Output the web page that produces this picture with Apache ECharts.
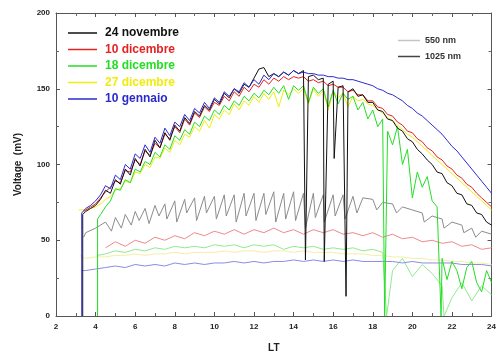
<!DOCTYPE html>
<html lang="it">
<head>
  <meta charset="UTF-8">
  <title>Voltage vs LT</title>
  <script src="https://cdn.jsdelivr.net/npm/echarts@6/dist/echarts.min.js"></script>
</head>
<body style="margin:0;">
  <div id="chart" style="width:499px;height:360px;"></div>
<script type="text/javascript">
  // LT grid for the 1025 nm traces (every 0.25 h) and the 550 nm traces (every 0.5 h)
  let ltHi = [3.5, 3.75, 4, 4.25, 4.5, 4.75, 5, 5.25, 5.5, 5.75, 6, 6.25, 6.5, 6.75, 7, 7.25,
    7.5, 7.75, 8, 8.25, 8.5, 8.75, 9, 9.25, 9.5, 9.75, 10, 10.25, 10.5, 10.75, 11, 11.25,
    11.5, 11.75, 12, 12.25, 12.5, 12.75, 13, 13.25, 13.5, 13.75, 14, 14.25, 14.5, 14.75, 15, 15.25,
    15.5, 15.75, 16, 16.25, 16.5, 16.75, 17, 17.25, 17.5, 17.75, 18, 18.25, 18.5, 18.75, 19, 19.25,
    19.5, 19.75, 20, 20.25, 20.5, 20.75, 21, 21.25, 21.5, 21.75, 22, 22.25, 22.5, 22.75, 23, 23.25,
    23.5, 23.75, 24];
  let ltLo = [3.5, 4, 4.5, 5, 5.5, 6, 6.5, 7, 7.5, 8, 8.5, 9, 9.5, 10, 10.5, 11, 11.5, 12, 12.5, 13,
    13.5, 14, 14.5, 15, 15.5, 16, 16.5, 17, 17.5, 18, 18.5, 19, 19.5, 20, 20.5, 21, 21.5, 22, 22.5, 23,
    23.5, 24];

  // 1025 nm (mV)
  let nov24Hi = [69, 71, 73, 77, 83, 81, 90, 87, 97, 93, 104, 99, 110, 105, 116, 111,
    121, 116, 126, 122, 131, 127, 135, 132, 139, 136, 143, 140, 147, 144, 150, 147,
    153, 151, 157, 163, 164, 158, 160, 158, 161, 159, 162, 160, 162, 158, 159, 156,
    157, 153, 155, 151, 152, 148, 150, 145, 146, 141, 141, 136, 135, 130, 129, 124,
    122, 117, 115, 110, 107, 103, 100, 95, 94, 88, 86, 81, 80, 74, 73, 68,
    67, 62, 60];
  let dic10Hi = [70, 72, 74, 78, 82, 85, 89, 88, 96, 95, 103, 100, 109, 106, 114, 111,
    120, 117, 125, 121, 130, 126, 134, 131, 138, 135, 141, 139, 145, 142, 148, 145,
    151, 148, 153, 151, 156, 153, 157, 155, 158, 156, 158, 157, 158, 155, 156, 154,
    155, 152, 153, 151, 151, 148, 149, 146, 146, 142, 142, 138, 137, 133, 132, 128,
    126, 122, 121, 117, 115, 111, 109, 105, 103, 99, 97, 93, 91, 87, 85, 81,
    78, 75, 72];
  let dic18Hi = [null, null, null, 67, 72, 76, 84, 83, 90, 88, 97, 95, 102, 100, 108, 105,
    113, 110, 119, 116, 123, 120, 128, 125, 132, 129, 136, 133, 139, 136, 142, 139,
    145, 142, 147, 144, 149, 146, 151, 147, 152, 143, 152, 149, 152, 141, 151, 147,
    150, 138, 149, 140, 147, 143, 145, 136, 141, 130, 136, 125, 130, 122, 113, 125,
    100, 110, 78, 95, 85, 92, 76, 72, 38, 24, 36, 30, 18, 32, 36, 22,
    16, 30, 22];
  let dic27Hi = [70, 71, 72, 74, 77, 79, 83, 84, 89, 88, 95, 94, 100, 98, 105, 104,
    111, 108, 116, 113, 120, 118, 125, 122, 129, 124, 133, 130, 136, 133, 140, 136,
    142, 139, 145, 141, 147, 143, 148, 138, 149, 146, 150, 147, 150, 140, 150, 145,
    149, 136, 148, 144, 147, 138, 145, 142, 143, 140, 139, 136, 134, 131, 129, 126,
    123, 120, 118, 115, 112, 109, 106, 103, 100, 97, 94, 91, 88, 85, 82, 79,
    76, 73, 70];
  let gen10Hi = [71, 73, 76, 80, 86, 84, 93, 90, 100, 97, 107, 104, 113, 108, 118, 114,
    124, 119, 128, 125, 133, 129, 137, 134, 141, 137, 144, 141, 148, 145, 150, 148,
    154, 151, 156, 153, 159, 156, 160, 158, 161, 159, 162, 160, 161, 160, 160, 159,
    159, 158, 158, 157, 157, 156, 156, 155, 154, 153, 152, 150, 149, 147, 146, 144,
    142, 139, 137, 134, 132, 129, 126, 123, 120, 116, 112, 109, 105, 101, 97, 93,
    89, 85, 81];

  // 550 nm (mV)
  let nov24Lo = [55, 58, 62, 65, 67, 69, 71, 73, 74, 76, 77, 78, 79, 79, 80, 80, 81, 81, 81, 82,
    81, 82, 81, 81, 80, 80, 80, 79, 78, 77, 75, 74, 72, 70, 68, 66, 64, 62, 60, 58,
    56, 54];
  let dic10Lo = [null, null, 45, 49, 46, 50, 48, 52, 50, 53, 51, 55, 53, 56, 54, 57, 54, 57, 55, 58,
    55, 57, 54, 57, 55, 57, 54, 55, 53, 55, 52, 54, 51, 52, 49, 50, 48, 49, 46, 47,
    44, 45];
  let dic18Lo = [null, null, 41, 43, 42, 44, 43, 45, 44, 46, 45, 46, 45, 47, 46, 47, 45, 47, 46, 47,
    44, 46, 45, 46, 44, 45, 44, 45, 43, 44, 42, 30, 38, 26, 34, 28, 20, 12, 22, 10,
    20, 14];
  let dic27Lo = [38, 39, 39, 40, 40, 41, 40, 41, 41, 42, 41, 42, 42, 42, 43, 42, 43, 43, 42, 43,
    43, 42, 43, 42, 42, 42, 41, 41, 41, 40, 40, 39, 39, 38, 38, 37, 37, 36, 36, 35,
    35, 34];
  let gen10Lo = [30, 31, 32, 33, 32, 34, 33, 34, 33, 35, 34, 35, 34, 35, 35, 36, 35, 36, 35, 36,
    36, 37, 36, 37, 36, 37, 36, 37, 36, 36, 36, 36, 35, 36, 35, 35, 35, 35, 34, 34,
    34, 33];

  // start of each record and the narrow drop-outs, as [LT, mV]
  let nov24HiExtra = [[3.35, 0], [3.35, 67], [14.6, 37], [15.55, 36], [16.05, 104], [16.65, 13]];
  let dic10HiExtra = [[3.4, 69]];
  let dic18HiExtra = [[4.1, 0], [4.1, 64], [18.6, 0], [21.45, 0]];
  let dic27HiExtra = [[3.15, 70]];
  let gen10HiExtra = [[3.3, 0], [3.3, 68]];
  let nov24LoExtra = [[3.4, 52], [4.8, 56], [5.3, 58], [5.8, 60], [6.2, 63], [6.7, 61], [7.2, 66],
    [7.6, 64], [8.1, 62], [8.6, 68], [9.1, 63], [9.6, 68], [10.1, 64], [10.6, 66], [11.1, 62],
    [11.6, 66], [12.1, 63], [12.6, 67], [13.1, 62], [13.6, 64], [14.1, 63], [14.6, 58], [15.1, 65],
    [15.55, 62], [16.1, 66], [16.6, 64], [17.2, 68], [18.2, 70], [19.2, 68], [20.6, 62], [21.6, 58],
    [22.6, 55], [23.2, 52]];
  let dic18LoExtra = [[4.1, 0], [4.1, 40], [18.7, 0], [21.6, 0]];
  let dic27LoExtra = [[3.2, 40]];
  let gen10LoExtra = [[3.3, 30]];

  let dates = ['24 novembre', '10 dicembre', '18 dicembre', '27 dicembre', '10 gennaio'];
  let darkColors = ['#111111', '#e52222', '#25dd25', '#f0ec10', '#2b2bcc'];
  let lightColors = ['#8c8c8c', '#ee8a8a', '#90ea90', '#f3efa6', '#8c8ce2'];

  function build(xs, ys, extra) {
    let pts = [];
    for (let i = 0; i < xs.length; i++) {
      if (ys[i] !== null) pts.push([xs[i], ys[i]]);
    }
    pts = pts.concat(extra);
    pts.sort(function (a, b) { return a[0] - b[0]; }); // stable, keeps vertical steps in order
    return pts;
  }

  let hiData = [
    build(ltHi, nov24Hi, nov24HiExtra),
    build(ltHi, dic10Hi, dic10HiExtra),
    build(ltHi, dic18Hi, dic18HiExtra),
    build(ltHi, dic27Hi, dic27HiExtra),
    build(ltHi, gen10Hi, gen10HiExtra)
  ];
  let loData = [
    build(ltLo, nov24Lo, nov24LoExtra),
    build(ltLo, dic10Lo, []),
    build(ltLo, dic18Lo, dic18LoExtra),
    build(ltLo, dic27Lo, dic27LoExtra),
    build(ltLo, gen10Lo, gen10LoExtra)
  ];

  let series = [];
  // 550 nm underneath
  for (let i = 0; i < 5; i++) {
    series.push({
      name: dates[i] + ' 550', type: 'line', symbol: 'none', data: loData[i],
      lineStyle: { width: 1, color: lightColors[i] }, itemStyle: { color: lightColors[i] },
      z: 2
    });
  }
  // 1025 nm, drawn yellow / green / red / black / blue
  let order = [3, 2, 1, 0, 4];
  order.forEach(function (i, k) {
    series.push({
      name: dates[i], type: 'line', symbol: 'none', data: hiData[i],
      lineStyle: { width: 1, color: darkColors[i] }, itemStyle: { color: darkColors[i] },
      z: 3 + k
    });
  });
  // wavelength key
  series.push({ name: '550 nm', type: 'line', symbol: 'none', data: [],
    lineStyle: { width: 2, color: '#c4c4c4' }, itemStyle: { color: '#c4c4c4' } });
  series.push({ name: '1025 nm', type: 'line', symbol: 'none', data: [],
    lineStyle: { width: 1.5, color: '#444' }, itemStyle: { color: '#444' } });

  let font = 'Liberation Sans, Arial, sans-serif';
  let axisCommon = {
    axisLine: { show: true, onZero: false, lineStyle: { color: '#555', width: 1 } },
    axisTick: { show: true, inside: true, length: 4, lineStyle: { color: '#555' } },
    minorTick: { show: true, splitNumber: 2, length: 3, lineStyle: { color: '#666' } },
    splitLine: { show: false },
    minorSplitLine: { show: false }
  };
  let labelStyle = { color: '#222', fontSize: 8, fontWeight: 'bold', fontFamily: font };

  let chart = echarts.init(document.getElementById('chart'));
  chart.setOption({
    animation: false,
    backgroundColor: '#fff',
    grid: { left: 56, right: 5, top: 13, bottom: 44 },
    legend: [{
      orient: 'vertical', left: 68, top: 26, padding: 0, icon: 'rect',
      itemWidth: 29, itemHeight: 1.5, itemGap: 2.5,
      textStyle: { fontSize: 12, fontWeight: 'bold', fontFamily: font, padding: [0, 0, 0, 3], lineHeight: 14 },
      data: dates.map(function (d, i) {
        return { name: d, textStyle: { color: darkColors[i] } };
      })
    }, {
      orient: 'vertical', left: 398, top: 35, padding: 0, icon: 'rect',
      itemWidth: 22, itemHeight: 1.5, itemGap: 5,
      textStyle: { fontSize: 9, fontWeight: 'bold', fontFamily: font, color: '#333', lineHeight: 11 },
      data: ['550 nm', '1025 nm']
    }],
    xAxis: [
      Object.assign({
        type: 'value', min: 2, max: 24, interval: 2, position: 'bottom',
        name: 'LT', nameLocation: 'middle', nameGap: 27,
        nameTextStyle: { color: '#222', fontSize: 10, fontWeight: 'bold', fontFamily: font },
        axisLabel: Object.assign({ margin: 7 }, labelStyle)
      }, axisCommon),
      Object.assign({
        type: 'value', min: 2, max: 24, interval: 2, position: 'top',
        axisLabel: { show: false }
      }, axisCommon)
    ],
    yAxis: [
      Object.assign({
        type: 'value', min: 0, max: 200, interval: 50, position: 'left',
        name: 'Voltage  (mV)', nameLocation: 'middle', nameGap: 33,
        nameTextStyle: { color: '#222', fontSize: 10, fontWeight: 'bold', fontFamily: font },
        axisLabel: Object.assign({ margin: 6 }, labelStyle)
      }, axisCommon),
      Object.assign({
        type: 'value', min: 0, max: 200, interval: 50, position: 'right',
        axisLabel: { show: false }
      }, axisCommon)
    ],
    series: series
  });
</script>
</body>
</html>
